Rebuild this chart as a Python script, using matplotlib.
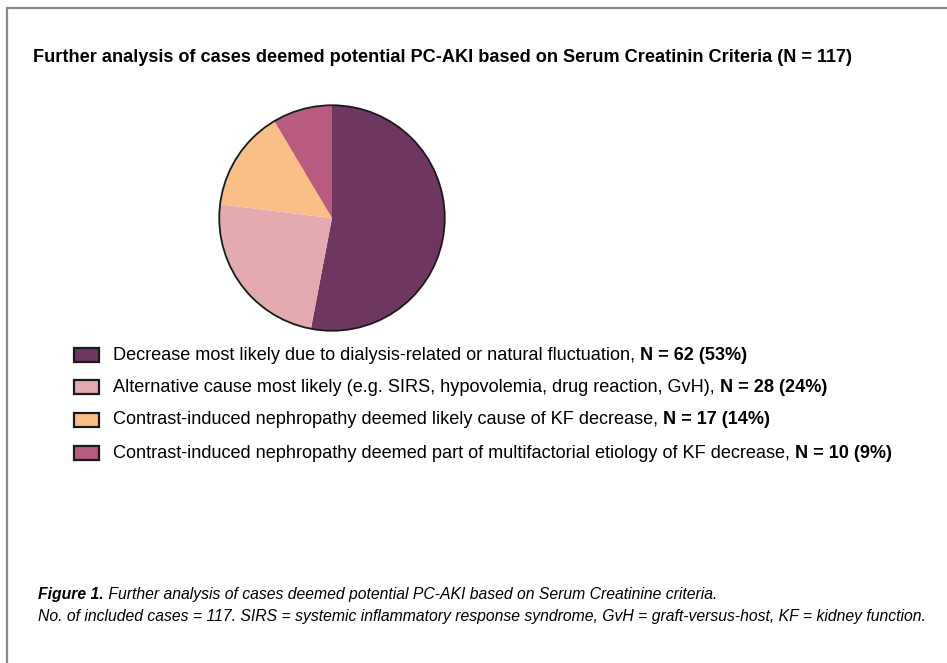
import matplotlib.pyplot as plt
from matplotlib.patches import Rectangle, Circle
from matplotlib.lines import Line2D

plt.rcParams['font.family'] = ['Liberation Sans', 'DejaVu Sans']

title = "Further analysis of cases deemed potential PC-AKI based on Serum Creatinin Criteria (N = 117)"
labels = [
    "Decrease most likely due to dialysis-related or natural fluctuation, ",
    "Alternative cause most likely (e.g. SIRS, hypovolemia, drug reaction, GvH), ",
    "Contrast-induced nephropathy deemed likely cause of KF decrease, ",
    "Contrast-induced nephropathy deemed part of multifactorial etiology of KF decrease, ",
]
counts = [62, 28, 17, 10]
shares = ["53%", "24%", "14%", "9%"]
colors = ["#6e3762", "#e3aab0", "#f9bf87", "#b95b80"]
caption_bold = "Figure 1."
caption_1 = " Further analysis of cases deemed potential PC-AKI based on Serum Creatinine criteria."
caption_2 = ("No. of included cases = 117. SIRS = systemic inflammatory response syndrome, "
             "GvH = graft-versus-host, KF = kidney function.")

W, H = 947, 663
fig = plt.figure(figsize=(W / 100, H / 100), dpi=100)
fig.patch.set_facecolor("white")

# frame (only top + left edges are visible in the crop)
fig.add_artist(Line2D([7 / W, 1], [1 - 8 / H, 1 - 8 / H], color="#8a8a8a", lw=1.6))
fig.add_artist(Line2D([7 / W, 7 / W], [1 - 8 / H, 0], color="#8a8a8a", lw=1.6))

# pie
cx, cy, r = 332, 218, 115
ax = fig.add_axes([(cx - r) / W, 1 - (cy + r) / H, 2 * r / W, 2 * r / H])
ax.pie(counts, colors=colors, startangle=90, counterclock=False,
       wedgeprops=dict(linewidth=0))
ax.add_patch(Circle((0, 0), 1, fill=False, ec="#1a1a1a", lw=1.3))
ax.set_xlim(-1.02, 1.02)
ax.set_ylim(-1.02, 1.02)
ax.set_aspect("equal")
ax.axis("off")

fig.text(33 / W, 1 - 57 / H, title, fontsize=13.05, fontweight="bold", va="center")

renderer = fig.canvas.get_renderer()
row_y = [355.5, 387, 420, 453]
for lab, n, s, c, y in zip(labels, counts, shares, colors, row_y):
    fig.add_artist(Rectangle((74 / W, 1 - (y + 7) / H), 25 / W, 14 / H,
                             fc=c, ec="#1a1a1a", lw=1.6, transform=fig.transFigure))
    t = fig.text(113 / W, 1 - y / H, lab, fontsize=13.1, va="center")
    bb = t.get_window_extent(renderer)
    fig.text(bb.x1 / W, 1 - y / H, f"N = {n} ({s})", fontsize=13.1, va="center",
             fontweight="bold")

# caption
t = fig.text(38 / W, 1 - 594 / H, caption_bold, fontsize=11.3, va="center",
             fontweight="bold", style="italic")
bb = t.get_window_extent(renderer)
fig.text(bb.x1 / W, 1 - 594 / H, caption_1, fontsize=11.3, va="center", style="italic")
fig.text(38 / W, 1 - 617 / H, caption_2, fontsize=11.3, va="center", style="italic")

fig.savefig("out.png", dpi=100)
